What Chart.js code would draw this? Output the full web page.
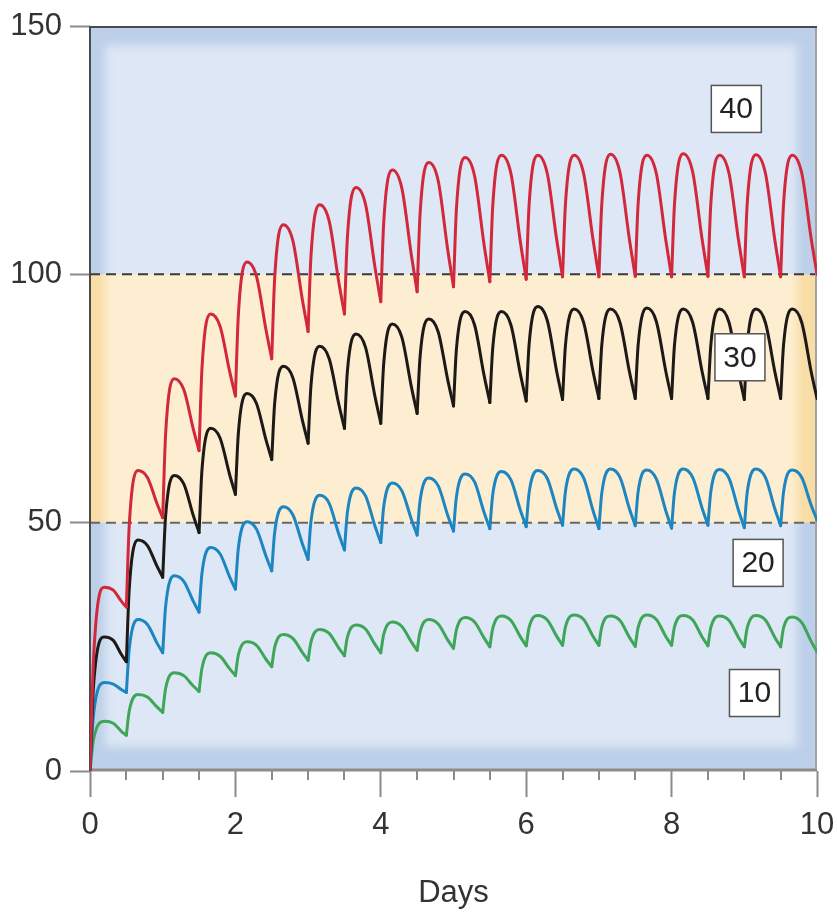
<!DOCTYPE html>
<html>
<head>
<meta charset="utf-8">
<script src="https://cdn.jsdelivr.net/npm/chart.js@4.4.1/dist/chart.umd.min.js"></script>
<style>
  html, body { margin: 0; padding: 0; background: #fff; }
  #wrap { width: 837px; height: 920px; position: relative; }
</style>
</head>
<body>
<div id="wrap"><canvas id="chart"></canvas></div>
<script>
// time points (days), six per dosing interval: trough, rise, peak, two on the fall, next trough
const days = [
  0, 0.05, 0.2, 0.32, 0.43, 0.5,
  0.5, 0.54, 0.66, 0.79, 0.92, 1,
  1, 1.04, 1.16, 1.29, 1.42, 1.5,
  1.5, 1.54, 1.66, 1.79, 1.92, 2,
  2, 2.04, 2.16, 2.29, 2.42, 2.5,
  2.5, 2.54, 2.66, 2.79, 2.92, 3,
  3, 3.04, 3.16, 3.29, 3.42, 3.5,
  3.5, 3.54, 3.66, 3.79, 3.92, 4,
  4, 4.04, 4.16, 4.29, 4.42, 4.5,
  4.5, 4.54, 4.66, 4.79, 4.92, 5,
  5, 5.04, 5.16, 5.29, 5.42, 5.5,
  5.5, 5.54, 5.66, 5.79, 5.92, 6,
  6, 6.04, 6.16, 6.29, 6.42, 6.5,
  6.5, 6.54, 6.66, 6.79, 6.92, 7,
  7, 7.04, 7.16, 7.29, 7.42, 7.5,
  7.5, 7.54, 7.66, 7.79, 7.92, 8,
  8, 8.04, 8.16, 8.29, 8.42, 8.5,
  8.5, 8.54, 8.66, 8.79, 8.92, 9,
  9, 9.04, 9.16, 9.29, 9.42, 9.5,
  9.5, 9.54, 9.66, 9.79, 9.92, 10
];
const POINTS_PER_DOSE = 6;

const dose10 = [
  0, 6.5, 10, 9.6, 8, 7.2,
  7.2, 12.1, 15.4, 14.9, 12.9, 11.8,
  11.8, 16.6, 19.8, 19.2, 17.1, 16,
  16, 20.7, 23.8, 23.1, 20.6, 19.2,
  19.2, 23.3, 26, 25.3, 22.5, 21,
  21, 24.9, 27.5, 26.7, 23.9, 22.3,
  22.3, 26, 28.5, 27.7, 24.8, 23.2,
  23.2, 26.9, 29.4, 28.6, 25.5, 23.8,
  23.8, 27.5, 30, 29.1, 26, 24.3,
  24.3, 28, 30.5, 29.6, 26.4, 24.7,
  24.7, 28.4, 30.9, 30, 26.8, 25,
  25, 28.7, 31.2, 30.3, 27, 25.2,
  25.2, 28.9, 31.3, 30.4, 27.1, 25.3,
  25.3, 29, 31.4, 30.5, 27.1, 25.3,
  25.3, 29, 31.2, 30.3, 26.9, 25.1,
  25.1, 28.9, 31.4, 30.5, 27.1, 25.3,
  25.3, 29, 31.3, 30.4, 27, 25.2,
  25.2, 28.9, 31.2, 30.3, 26.9, 25,
  25, 28.8, 31.3, 30.4, 26.9, 25,
  25, 28.8, 31, 29.9, 26.1, 24
];

const dose20 = [
  0, 11.6, 17.8, 17.5, 16.4, 15.8,
  15.8, 24.6, 30.5, 29.5, 25.8, 23.8,
  23.8, 33.1, 39.3, 38.2, 34.2, 32,
  32, 39.8, 45, 43.7, 39.1, 36.6,
  36.6, 44.8, 50.2, 48.7, 43.3, 40.3,
  40.3, 48, 53.2, 51.6, 45.8, 42.6,
  42.6, 50.3, 55.5, 53.9, 47.8, 44.5,
  44.5, 52, 57, 55.4, 49.3, 46,
  46, 53.2, 58, 56.4, 50.7, 47.5,
  47.5, 54.4, 59, 57.4, 51.5, 48.3,
  48.3, 55.2, 59.8, 58.2, 52.1, 48.8,
  48.8, 55.7, 60.3, 58.6, 52.5, 49.2,
  49.2, 56, 60.5, 58.9, 52.8, 49.5,
  49.5, 56.3, 60.8, 59, 52.4, 48.8,
  48.8, 56, 60.8, 59.1, 52.8, 49.4,
  49.4, 56.3, 60.6, 58.8, 52.4, 48.9,
  48.9, 56.1, 60.8, 59.1, 52.9, 49.5,
  49.5, 56.3, 60.7, 58.9, 52.5, 49,
  49, 56.1, 60.8, 59.1, 52.8, 49.4,
  49.4, 56.2, 60.6, 59.1, 53.5, 50.5
];

const dose30 = [
  0, 17.5, 27, 26.3, 23.5, 22,
  22, 36.7, 46.5, 45.4, 41.3, 39,
  39, 51.3, 59.5, 57.8, 51.5, 48,
  48, 60.6, 69, 67, 59.7, 55.7,
  55.7, 67.9, 76, 74, 66.7, 62.7,
  62.7, 74, 81.5, 79.2, 70.7, 66,
  66, 77.7, 85.5, 83, 74, 69,
  69, 80.4, 88, 85.3, 75.4, 70,
  70, 82, 90, 87.3, 77.4, 72,
  72, 83.4, 91, 88.4, 78.8, 73.5,
  73.5, 84.9, 92.5, 89.8, 79.7, 74.2,
  74.2, 85.2, 92.5, 89.8, 79.9, 74.5,
  74.5, 85.9, 93.5, 90.7, 80.4, 74.8,
  74.8, 85.7, 93, 90.3, 80.4, 75,
  75, 85.8, 93, 90.3, 80.4, 75,
  75, 85.8, 93.2, 90.5, 80.5, 75,
  75, 85.8, 93, 90.3, 80.4, 75,
  75, 85.8, 93, 90.3, 80.3, 74.8,
  74.8, 85.7, 93, 90.3, 80.4, 75,
  75, 85.8, 93, 90.3, 80.4, 75
];

const dose40 = [
  0, 23, 37, 36.4, 34.2, 33,
  33, 49.5, 60.5, 59.1, 53.9, 51,
  51, 67.8, 79, 76.8, 68.9, 64.5,
  64.5, 81, 92, 89.5, 80.5, 75.5,
  75.5, 91.7, 102.5, 99.6, 88.9, 83,
  83, 99.2, 110, 106.8, 95, 88.5,
  88.5, 103.8, 114, 110.7, 98.6, 92,
  92, 107.3, 117.5, 114.1, 101.4, 94.5,
  94.5, 110.4, 121, 117.3, 103.9, 96.5,
  96.5, 112.1, 122.5, 118.8, 105, 97.5,
  97.5, 113.1, 123.5, 119.8, 106, 98.5,
  98.5, 113.8, 124, 120.3, 106.5, 99,
  99, 114, 124, 120.3, 106.9, 99.5,
  99.5, 114.2, 124, 120.3, 106.9, 99.5,
  99.5, 114.2, 124.2, 120.5, 107, 99.6,
  99.6, 114.3, 124, 120.3, 106.9, 99.5,
  99.5, 114.2, 124.3, 120.6, 107, 99.6,
  99.6, 114.3, 124, 120.3, 106.9, 99.5,
  99.5, 114.2, 124.1, 120.4, 106.9, 99.5,
  99.5, 114.2, 124, 120.4, 107.2, 100
];

const doseLabels = ['10', '20', '30', '40'];
const therapeuticRange = [50, 100];
const yTicks = [0, 50, 100, 150];
const xTicks = [0, 2, 4, 6, 8, 10];

const FONT = '"Liberation Sans", Arial, Helvetica, sans-serif';
Chart.defaults.font.family = FONT;

const lineColors = ['#3ea659', '#1d86c1', '#1c1917', '#d2283b'];
// where the dose boxes sit, in days / concentration units
const boxSpots = [[9.14, 15.7], [9.19, 41.9], [8.94, 83.3], [8.89, 133.3]];

const seriesValues = [dose10, dose20, dose30, dose40];

const backdrop = {
    id: 'backdrop',
    beforeDatasetsDraw(chart) {
        const {ctx, chartArea: a, scales: {y}} = chart;
        const yHi = y.getPixelForValue(therapeuticRange[1]);
        const yLo = y.getPixelForValue(therapeuticRange[0]);

        ctx.save();
        ctx.beginPath();
        ctx.rect(a.left, a.top, a.width, a.height);
        ctx.clip();

        // darker frame, then the lighter inner panel
        ctx.fillStyle = '#bdd0e9';
        ctx.fillRect(a.left, a.top, a.width, a.height);
        ctx.filter = 'blur(5px)';
        ctx.fillStyle = '#dde7f5';
        ctx.fillRect(a.left + 15, a.top + 19, a.width - 35, a.height - 43);
        ctx.filter = 'none';

        // orange band
        ctx.save();
        ctx.beginPath();
        ctx.rect(a.left, yHi, a.width, yLo - yHi);
        ctx.clip();
        ctx.fillStyle = '#f8dda6';
        ctx.fillRect(a.left, yHi, a.width, yLo - yHi);
        ctx.filter = 'blur(5px)';
        ctx.fillStyle = '#fdeed2';
        ctx.fillRect(a.left + 15, yHi - 30, a.width - 35, yLo - yHi + 60);
        ctx.filter = 'none';
        ctx.restore();

        // dashed limits
        ctx.setLineDash([10, 6]);
        ctx.lineWidth = 2;
        ctx.strokeStyle = '#3a3a3a';
        ctx.beginPath();
        ctx.moveTo(a.left, yHi);
        ctx.lineTo(a.right, yHi);
        ctx.stroke();
        ctx.strokeStyle = '#6b6660';
        ctx.beginPath();
        ctx.moveTo(a.left, yLo);
        ctx.lineTo(a.right, yLo);
        ctx.stroke();
        ctx.setLineDash([]);
        ctx.restore();

        // frame lines
        ctx.save();
        ctx.lineWidth = 2;
        ctx.strokeStyle = '#a2a2a2';
        ctx.beginPath();
        ctx.moveTo(a.right - 1, a.top);
        ctx.lineTo(a.right - 1, a.bottom);
        ctx.stroke();
        ctx.strokeStyle = '#4a4a4a';
        ctx.beginPath();
        ctx.moveTo(a.left, a.bottom);
        ctx.lineTo(a.left, a.top + 1);
        ctx.lineTo(a.right, a.top + 1);
        ctx.stroke();
        ctx.lineWidth = 3;
        ctx.strokeStyle = '#8c8c8c';
        ctx.beginPath();
        ctx.moveTo(a.left, a.bottom - 1);
        ctx.lineTo(a.right, a.bottom - 1);
        ctx.stroke();
        ctx.restore();
    },
    afterDatasetsDraw(chart) {
        const {ctx, chartArea: a, scales: {x, y}} = chart;
        ctx.save();

        // short ticks every half day
        ctx.strokeStyle = '#8a8a8a';
        ctx.lineWidth = 2;
        for (let d = 0.5; d < 10; d += 0.5) {
            if (d % 2 === 0) continue;
            const px = Math.round(x.getPixelForValue(d));
            ctx.beginPath();
            ctx.moveTo(px, a.bottom);
            ctx.lineTo(px, a.bottom + 9);
            ctx.stroke();
        }

        // dose boxes
        ctx.font = '30px ' + FONT;
        ctx.textAlign = 'center';
        ctx.textBaseline = 'middle';
        doseLabels.forEach((txt, i) => {
            const cx = x.getPixelForValue(boxSpots[i][0]);
            const cy = y.getPixelForValue(boxSpots[i][1]);
            const w = 50, h = 47;
            ctx.fillStyle = '#ffffff';
            ctx.fillRect(cx - w / 2, cy - h / 2, w, h);
            ctx.lineWidth = 1.5;
            ctx.strokeStyle = '#555555';
            ctx.strokeRect(cx - w / 2, cy - h / 2, w, h);
            ctx.fillStyle = '#222222';
            ctx.fillText(txt, cx, cy + 1);
        });
        ctx.restore();
    }
};

// one short dataset per dosing interval, so each arch is smooth and the troughs stay sharp
const datasets = [];
seriesValues.forEach((vals, s) => {
    for (let i = 0; i < days.length; i += POINTS_PER_DOSE) {
        datasets.push({
            label: doseLabels[s],
            data: days.slice(i, i + POINTS_PER_DOSE).map((d, j) => ({x: d, y: vals[i + j]})),
            borderColor: lineColors[s],
            borderWidth: 3,
            cubicInterpolationMode: 'monotone',
            pointRadius: 0,
            borderCapStyle: 'round',
            borderJoinStyle: 'round',
            fill: false,
            order: seriesValues.length - s
        });
    }
});

new Chart(document.getElementById('chart'), {
    type: 'line',
    data: {datasets},
    options: {
        responsive: true,
        maintainAspectRatio: false,
        animation: false,
        layout: {padding: {top: 26, right: 20, left: 0, bottom: 0}},
        plugins: {
            legend: {display: false},
            tooltip: {enabled: false}
        },
        scales: {
            x: {
                type: 'linear',
                min: 0,
                max: 10,
                afterBuildTicks: (s) => { s.ticks = xTicks.map(v => ({value: v})); },
                afterFit: (s) => { s.height = 149; s.paddingLeft = 0; s.paddingRight = 0; },
                ticks: {color: '#333', font: {size: 31}, padding: 10, maxRotation: 0, autoSkip: false},
                grid: {drawOnChartArea: false, tickLength: 26, tickColor: '#8a8a8a', tickWidth: 2},
                border: {display: false},
                title: {display: true, text: 'Days', color: '#333', font: {size: 31}, padding: {top: 0, bottom: 8}}
            },
            y: {
                type: 'linear',
                min: 0,
                max: 150,
                afterBuildTicks: (s) => { s.ticks = yTicks.map(v => ({value: v})); },
                afterFit: (s) => { s.width = 90; s.paddingTop = 0; s.paddingBottom = 0; },
                ticks: {color: '#333', font: {size: 31}, padding: 8},
                grid: {drawOnChartArea: false, tickLength: 20, tickColor: '#8a8a8a', tickWidth: 2},
                border: {display: false}
            }
        }
    },
    plugins: [backdrop]
});
</script>
</body>
</html>
